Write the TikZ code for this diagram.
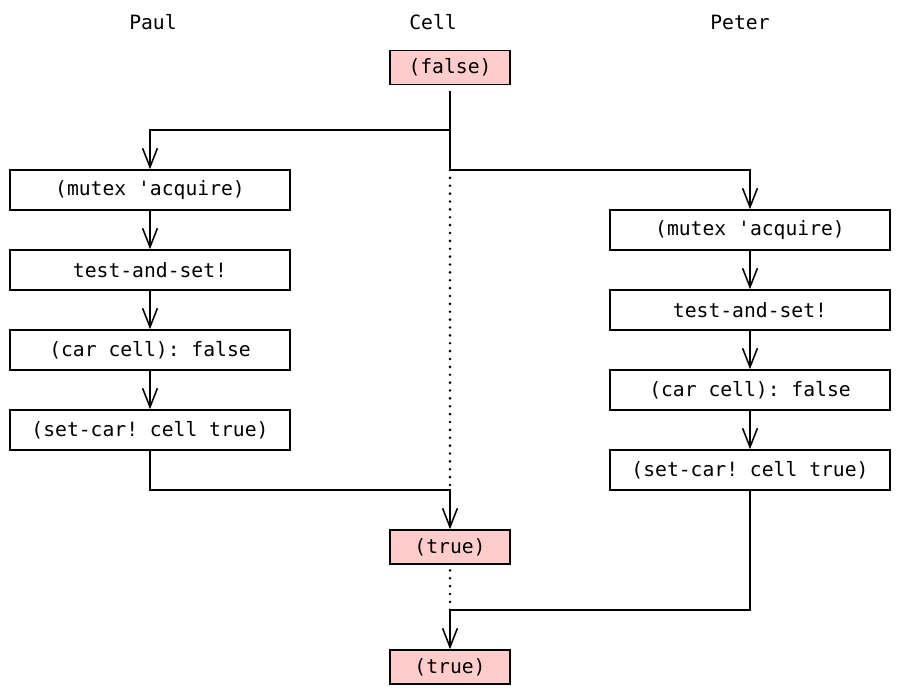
\documentclass[tikz,border=0pt]{standalone}
\usepackage{fontspec}
\setmonofont{DejaVu Sans Mono}
\usetikzlibrary{arrows.meta}
\definecolor{cellpink}{RGB}{255,204,204}
\tikzset{
  step box/.style={draw, line width=1.1pt, minimum width=7cm, minimum height=1cm, inner sep=0pt},
  cell box/.style={draw, line width=1.1pt, fill=cellpink, minimum width=3cm, minimum height=0.85cm, inner sep=0pt},
  arr/.style={line width=1.1pt, -{Straight Barb[length=0.47cm, width=0.37cm, line width=1.1pt]}},
  dots/.style={line width=2pt, dash pattern=on 0pt off 5.6pt, line cap=round}
}
\begin{document}
\begin{tikzpicture}[x=0.025cm, y=-0.025cm, font=\ttfamily\fontsize{14}{16}\selectfont]
    \useasboundingbox (0,0) rectangle (900,694);
    \node (paul) at (153,22) {Paul};
    \node (cell) at (433,22) {Cell};
    \node (peter) at (740,22) {Peter};
    \node [cell box] (false) at (450,67.5) {(false)};
    \node [step box] (pa1) at (150,190) {(mutex 'acquire)};
    \node [step box] (pa2) at (150,270) {test-and-set!};
    \node [step box] (pa3) at (150,350) {(car cell): false};
    \node [step box] (pa4) at (150,430) {(set-car! cell true)};
    \node [step box] (pe1) at (750,230) {(mutex 'acquire)};
    \node [step box] (pe2) at (750,310) {test-and-set!};
    \node [step box] (pe3) at (750,390) {(car cell): false};
    \node [step box] (pe4) at (750,470) {(set-car! cell true)};
    \node [cell box] (true1) at (450,547) {(true)};
    \node [cell box] (true2) at (450,667) {(true)};
    \coordinate (fork1) at (450,130);
    \coordinate (fork2) at (450,170);
    \coordinate (join1) at (450,490);
    \coordinate (join2) at (450,610);
    % fork from the cell
    \draw [arr, shorten <=4pt] (false.south) -- (fork2) -| (pe1.north);
    \draw [arr] (fork1) -| (pa1.north);
    \draw [dots] (fork2) -- (join1);
    % Paul
    \draw [arr] (pa1) -- (pa2);
    \draw [arr] (pa2) -- (pa3);
    \draw [arr] (pa3) -- (pa4);
    \draw [arr] (pa4.south) |- (join1) -- (true1.north);
    % Peter
    \draw [arr] (pe1) -- (pe2);
    \draw [arr] (pe2) -- (pe3);
    \draw [arr] (pe3) -- (pe4);
    \draw [dots, shorten <=4pt] (true1.south) -- (join2);
    \draw [arr] (pe4.south) |- (join2) -- (true2.north);
  \end{tikzpicture}
\end{document}
